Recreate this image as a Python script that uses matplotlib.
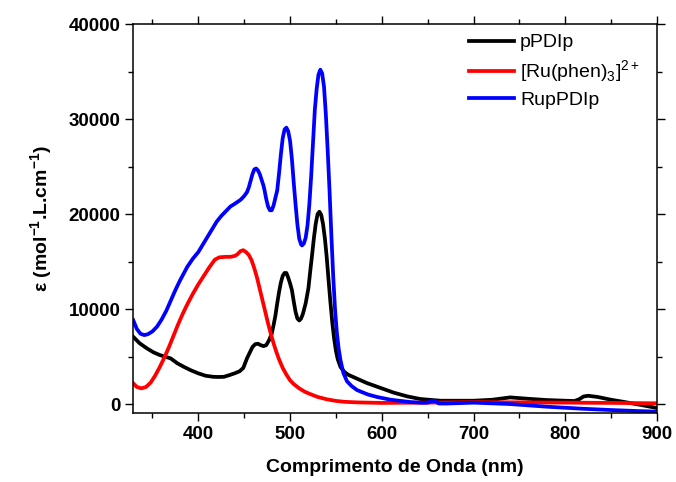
import matplotlib
matplotlib.use("Agg")
import matplotlib.pyplot as plt
from matplotlib.ticker import MultipleLocator

plt.rcParams["font.family"] = ["Liberation Sans", "DejaVu Sans"]
plt.rcParams["mathtext.fontset"] = "custom"
plt.rcParams["mathtext.rm"] = "Liberation Sans"
plt.rcParams["mathtext.bf"] = "Liberation Sans:bold"

# pPDIp
wl_ppdip = [329, 336, 344, 351, 358, 365, 370, 377, 384, 392, 400, 408, 416, 422, 428,
            434, 440, 445, 449, 451, 453, 456, 459, 462, 465, 468, 471, 474, 477, 480,
            482, 484, 486, 488, 490, 492, 494, 496, 498, 500, 502, 504, 506, 508, 510,
            512, 514, 517, 520, 522, 524, 526, 528, 530, 532, 534, 536, 538, 540, 542,
            544, 546, 548, 550, 552, 555, 559, 563, 570, 584, 600, 613, 628, 642, 664,
            700, 720, 740, 760, 780, 800, 810, 815, 820, 825, 835, 850, 863, 880, 900]
eps_ppdip = [7090, 6400, 5860, 5450, 5160, 4950, 4800, 4300, 3930, 3550, 3230, 2980,
             2870, 2850, 2870, 3050, 3250, 3450, 3800, 4300, 4800, 5400, 6000, 6300,
             6350, 6200, 6100, 6200, 6700, 7400, 8300, 9300, 10600, 11800, 12800, 13500,
             13800, 13800, 13300, 12700, 12000, 10800, 9700, 9000, 8800, 9000, 9500,
             10600, 12200, 14000, 15700, 17500, 19000, 20000, 20250, 19900, 18900, 17400,
             15400, 13000, 10700, 8600, 6900, 5600, 4700, 3900, 3400, 3100, 2800, 2200,
             1650, 1200, 800, 530, 350, 350, 450, 700, 550, 420, 350, 320, 500, 800,
             870, 750, 450, 240, -50, -420]

# [Ru(phen)3]2+
wl_ru = [329, 333, 338, 343, 348, 353, 358, 363, 368, 373, 378, 383, 388, 394, 400,
         406, 412, 418, 423, 430, 435, 440, 443, 446, 449, 452, 455, 458, 461, 464,
         467, 470, 473, 476, 479, 482, 485, 488, 492, 496, 500, 504, 510, 516, 522,
         530, 540, 550, 560, 575, 600, 650, 700, 750, 800, 850, 900]
eps_ru = [2180, 1800, 1650, 1800, 2250, 3000, 3900, 4900, 6000, 7200, 8400, 9500,
          10500, 11600, 12600, 13500, 14400, 15200, 15450, 15500, 15500, 15600, 15800,
          16100, 16200, 16000, 15700, 15150, 14300, 13300, 12100, 10900, 9700, 8500,
          7400, 6400, 5500, 4700, 3800, 3100, 2500, 2100, 1650, 1300, 1050, 750, 500,
          330, 230, 170, 120, 150, 200, 180, 150, 120, 80]

# RupPDIp
wl_rup = [329, 333, 337, 341, 345, 350, 355, 360, 365, 370, 375, 380, 388, 394, 400,
          405, 410, 415, 420, 425, 430, 435, 440, 446, 450, 453, 455, 457, 459, 461,
          463, 465, 467, 469, 471, 472, 474, 476, 478, 480, 482, 484, 486, 488, 490,
          492, 494, 496, 498, 500, 502, 504, 506, 508, 510, 512, 513, 515, 517, 519,
          521, 523, 525, 527, 529, 531, 533, 535, 537, 539, 541, 543, 545, 547, 549,
          551, 553, 555, 558, 562, 567, 573, 585, 595, 610, 631, 645, 650, 653, 656,
          659, 662, 670, 700, 740, 780, 820, 850, 880, 900]
eps_rup = [8840, 7900, 7400, 7260, 7350, 7650, 8150, 8900, 9800, 10900, 12000, 13000,
           14450, 15300, 16000, 16800, 17600, 18400, 19200, 19800, 20300, 20800, 21100,
           21500, 21900, 22300, 22800, 23500, 24200, 24700, 24800, 24600, 24200, 23600,
           23000, 22600, 21600, 20800, 20400, 20400, 20900, 21700, 22500, 24300, 26300,
           28000, 28900, 29100, 28700, 27700, 25800, 23300, 21000, 18900, 17400, 16800,
           16700, 16900, 17500, 18800, 21000, 24000, 27500, 31000, 33200, 34700, 35200,
           34800, 33400, 30500, 26700, 22500, 17800, 13500, 10000, 7500, 5800, 4600,
           3300, 2400, 1900, 1470, 1000, 740, 450, 210, 130, 150, 280, 330, 250, 60, 50,
           150, 0, -280, -500, -630, -740, -800]

fig = plt.figure(figsize=(6.76, 4.82), dpi=100)
ax = fig.add_axes([0.197, 0.143, 0.775, 0.807])

ax.plot(wl_ppdip, eps_ppdip, color="black", lw=2.7, label="pPDIp")
ax.plot(wl_ru, eps_ru, color="red", lw=2.7, label="[Ru(phen)$_3$]$^{2+}$")
ax.plot(wl_rup, eps_rup, color="blue", lw=2.7, label="RupPDIp")

ax.set_xlim(329, 900)
ax.set_ylim(-950, 40000)
ax.xaxis.set_major_locator(MultipleLocator(100))
ax.xaxis.set_minor_locator(MultipleLocator(50))
ax.yaxis.set_major_locator(MultipleLocator(10000))
ax.yaxis.set_minor_locator(MultipleLocator(5000))
ax.tick_params(which="both", direction="out", top=True, right=True, width=1)
ax.tick_params(which="major", length=6, labelsize=13.5, pad=3)
ax.tick_params(which="minor", length=3.5)
for lbl in ax.get_xticklabels() + ax.get_yticklabels():
    lbl.set_fontweight("bold")
for sp in ax.spines.values():
    sp.set_linewidth(1.1)

ax.set_xlabel("Comprimento de Onda (nm)", fontsize=14, fontweight="bold", labelpad=12)
ax.set_ylabel(r"ε (mol$^{\mathbf{-1}}$.L.cm$^{\mathbf{-1}}$)", fontsize=14,
              fontweight="bold", labelpad=10)

ax.legend(loc="upper right", frameon=False, fontsize=14, handlelength=2.3,
          handletextpad=0.3, labelspacing=0.35, borderaxespad=0.2,
          bbox_to_anchor=(0.99, 1.005))

fig.savefig("out.png", dpi=100)
